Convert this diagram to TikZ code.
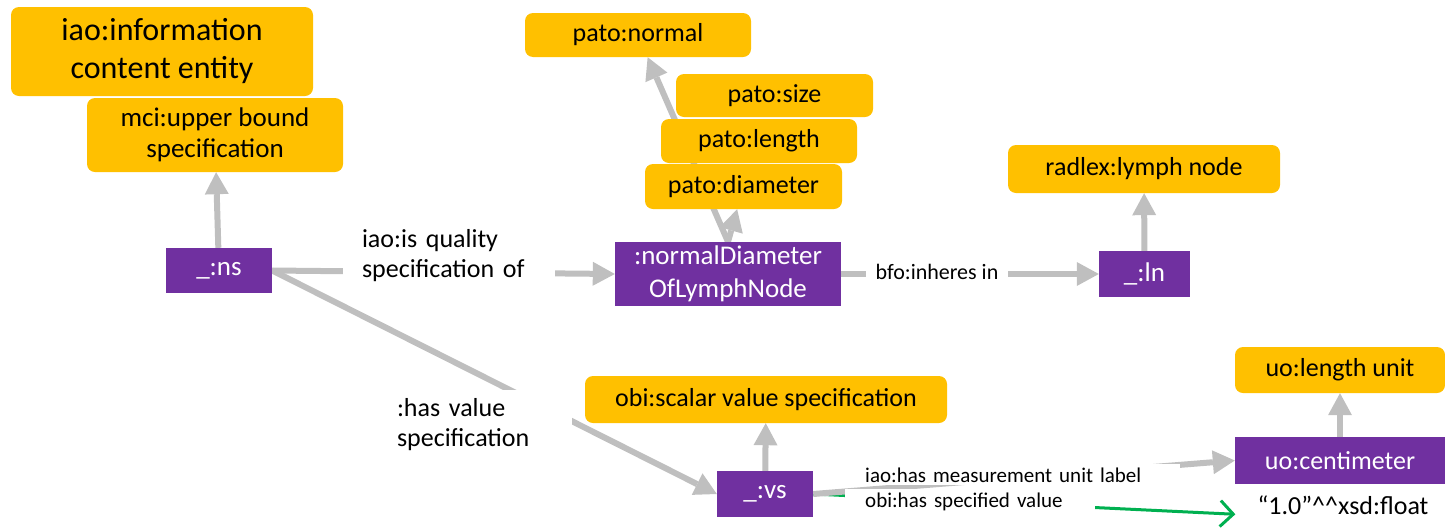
\documentclass[tikz,border=0pt]{standalone}
\usepackage{fontspec}
\setmainfont{Carlito}
\usetikzlibrary{arrows.meta, backgrounds}
\definecolor{conceptyellow}{HTML}{FFC000}
\definecolor{instpurple}{HTML}{7030A0}
\definecolor{linkgray}{HTML}{BFBFBF}
\definecolor{valuegreen}{HTML}{00B050}

\begin{document}
\begin{tikzpicture}[x=1pt, y=-1pt,
    concept/.style={fill=conceptyellow, rounded corners=8pt, align=center, inner sep=0pt, font=\fontsize{26}{31}\selectfont},
    instance/.style={fill=instpurple, text=white, align=center, inner sep=0pt, font=\fontsize{27}{33}\selectfont},
    link/.style={draw=linkgray, line width=6pt, -{Triangle[length=22pt, width=24pt, line width=0pt]}},
    literal/.style={draw=valuegreen, line width=3pt, -{Straight Barb[length=13pt, width=26pt]}},
    linklabel/.style={fill=white, align=left, inner ysep=3pt, font=\fontsize{26}{30}\selectfont}]
\useasboundingbox (0,0) rectangle (1445,528);

\node[concept, minimum width=302pt, minimum height=89pt, font=\fontsize{32}{38}\selectfont] (ice) at (162,51.5) {iao:information\\content entity};
\node[concept, minimum width=256pt, minimum height=74pt, font=\fontsize{27}{31}\selectfont] (mci) at (215,135) {mci:upper bound\\specification};
\node[instance, minimum width=106pt, minimum height=45pt] (ns) at (219,270.5) {\_:ns};
\node[concept, minimum width=226pt, minimum height=44pt] (normal) at (638,35) {pato:normal};
\node[concept, minimum width=197pt, minimum height=43pt] (size) at (774.5,95.5) {pato:size};
\node[concept, minimum width=196pt, minimum height=44pt] (length) at (759,141) {pato:length};
\node[concept, minimum width=197pt, minimum height=45pt] (diameter) at (743.5,186.5) {pato:diameter};
\node[instance, minimum width=226pt, minimum height=64pt] (ndl) at (728,274) {:normalDiameter\\OfLymphNode};
\node[concept, minimum width=272pt, minimum height=48pt] (radlex) at (1144,169) {radlex:lymph node};
\node[instance, minimum width=91pt, minimum height=46pt] (ln) at (1144.5,274) {\_:ln};
\node[concept, minimum width=362pt, minimum height=47pt] (svs) at (766,399.5) {obi:scalar value specification};
\node[instance, minimum width=96pt, minimum height=46pt] (vs) at (765,494) {\_:vs};
\node[concept, minimum width=210pt, minimum height=46pt] (unit) at (1340,370) {uo:length unit};
\node[instance, minimum width=210pt, minimum height=47pt, font=\fontsize{26}{31}\selectfont] (cm) at (1340,460.5) {uo:centimeter};
\node[font=\fontsize{26}{31}\selectfont, inner xsep=22pt, inner ysep=4pt] (val) at (1343,505) {“1.0”\textasciicircum\textasciicircum xsd:float};

\begin{scope}[on background layer]
\draw[link] (ns) -- (mci);
\draw[link] (ns.east) -- (ndl.west);
\draw[link] (ns.east) -- (vs.west);
\draw[link] (ndl.north) -- (normal);
\draw[link] (ndl.north) -- (diameter);
\draw[link] (ndl) -- (ln);
\draw[link] (ln) -- (radlex);
\draw[link] (vs) -- (svs);
\draw[literal] (vs.east) -- (val.base west);
\draw[link] (vs.east) -- (cm.west);
\draw[link] (cm) -- (unit);
\end{scope}

\node[linklabel, text width=174pt, inner xsep=19pt, minimum height=70pt] (qual) at (449,256) {iao:is quality\\specification of};
\node[linklabel, text width=168pt, inner xsep=7pt, minimum height=70pt] (hasval) at (481,425) {:has value\\specification};
\node[linklabel, font=\fontsize{22}{26}\selectfont, minimum width=142pt, align=center] (inh) at (937,272) {bfo:inheres in};
\node[linklabel, font=\fontsize{21}{25}\selectfont, text width=295pt, inner xsep=20pt, anchor=base west] (unitlbl) at (845,482) {iao:has measurement unit label};
\node[linklabel, font=\fontsize{21}{25}\selectfont, text width=210pt, inner xsep=20pt, anchor=base west] (vallbl) at (845,507) {obi:has specified value};
\end{tikzpicture}
\end{document}
